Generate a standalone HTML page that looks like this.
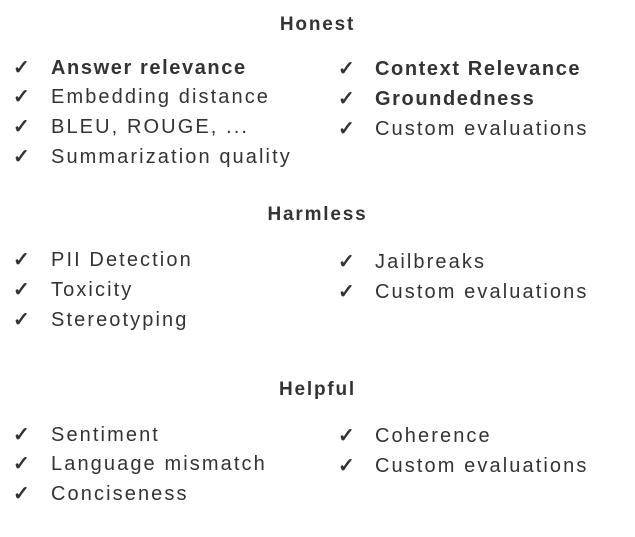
<!DOCTYPE html>
<html><head><style>
body{margin:0;width:635px;height:537px;background:#fff;position:relative;font-family:"Liberation Sans",sans-serif;color:#333;overflow:hidden}
.h{position:absolute;left:0;width:635px;text-align:center;font-weight:bold;font-size:19px;line-height:24px;letter-spacing:1.8px}
.c{position:absolute;font-size:20px;line-height:24px;font-weight:bold}
.t{position:absolute;font-size:20px;line-height:24px;letter-spacing:2.1px;white-space:nowrap}
b{letter-spacing:1.6px}
</style></head><body>
<div class="h" style="top:13px">Honest</div>
<div class="c" style="left:13px;top:56px">✓</div><div class="t" style="left:51px;top:56px"><b>Answer relevance</b></div>
<div class="c" style="left:13px;top:85px">✓</div><div class="t" style="left:51px;top:85px">Embedding distance</div>
<div class="c" style="left:13px;top:115px">✓</div><div class="t" style="left:51px;top:115px">BLEU, ROUGE, ...</div>
<div class="c" style="left:13px;top:145px">✓</div><div class="t" style="left:51px;top:145px">Summarization quality</div>
<div class="c" style="left:338px;top:57px">✓</div><div class="t" style="left:375px;top:57px"><b>Context Relevance</b></div>
<div class="c" style="left:338px;top:87px">✓</div><div class="t" style="left:375px;top:87px"><b>Groundedness</b></div>
<div class="c" style="left:338px;top:117px">✓</div><div class="t" style="left:375px;top:117px">Custom evaluations</div>

<div class="h" style="top:203px">Harmless</div>
<div class="c" style="left:13px;top:248px">✓</div><div class="t" style="left:51px;top:248px">PII Detection</div>
<div class="c" style="left:13px;top:278px">✓</div><div class="t" style="left:51px;top:278px">Toxicity</div>
<div class="c" style="left:13px;top:308px">✓</div><div class="t" style="left:51px;top:308px">Stereotyping</div>
<div class="c" style="left:338px;top:250px">✓</div><div class="t" style="left:375px;top:250px">Jailbreaks</div>
<div class="c" style="left:338px;top:280px">✓</div><div class="t" style="left:375px;top:280px">Custom evaluations</div>

<div class="h" style="top:378px">Helpful</div>
<div class="c" style="left:13px;top:423px">✓</div><div class="t" style="left:51px;top:423px">Sentiment</div>
<div class="c" style="left:13px;top:452px">✓</div><div class="t" style="left:51px;top:452px">Language mismatch</div>
<div class="c" style="left:13px;top:482px">✓</div><div class="t" style="left:51px;top:482px">Conciseness</div>
<div class="c" style="left:338px;top:424px">✓</div><div class="t" style="left:375px;top:424px">Coherence</div>
<div class="c" style="left:338px;top:454px">✓</div><div class="t" style="left:375px;top:454px">Custom evaluations</div>
</body></html>
